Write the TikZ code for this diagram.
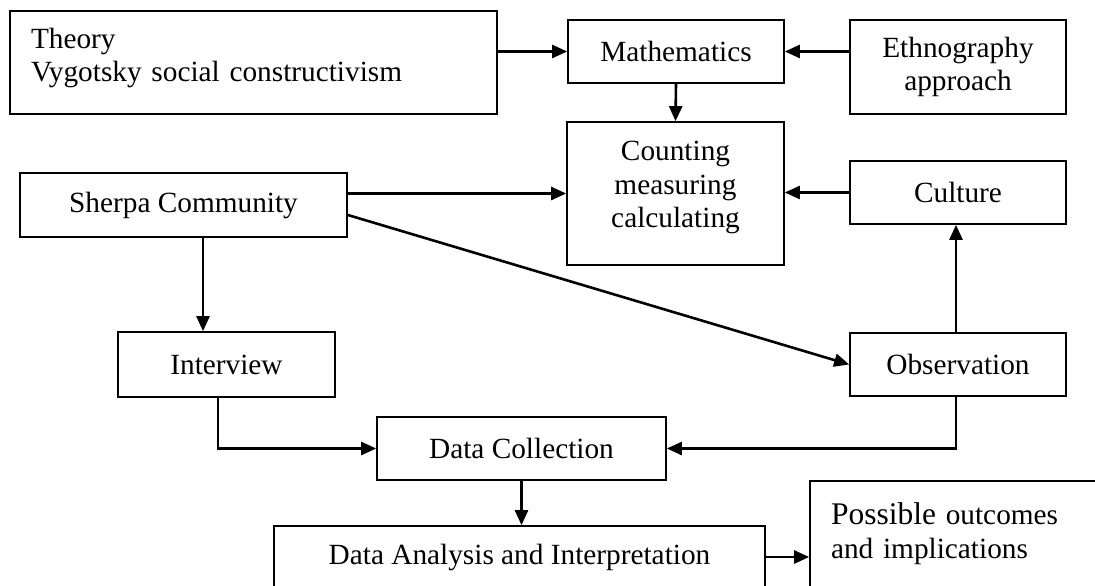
\documentclass[tikz,border=0pt]{standalone}
\usepackage{fontspec}
\setmainfont{Liberation Serif}
\usetikzlibrary{arrows.meta,calc}
\begin{document}
\begin{tikzpicture}[x=1pt,y=-1pt,
  box/.style={draw, line width=1.7pt, inner sep=0pt, align=center,
    font=\fontsize{29.3}{33.5}\selectfont},
  arr/.style={line width=2.6pt, -{Triangle[length=15pt,width=13pt]}}]
\useasboundingbox (0,0) rectangle (1095,586);
\clip (0,0) rectangle (1095,586);
% boxes
\node[box, minimum width=487pt, minimum height=103pt, text width=445pt, align=left] (theory) at (253.5,62.5) {Theory\\Vygotsky social constructivism\\[-18pt]\mbox{}};
\node[box, minimum width=216pt, minimum height=63pt] (math) at (676,51.5) {Mathematics};
\node[box, minimum width=216pt, minimum height=94pt] (ethno) at (958,67) {Ethnography\\approach};
\node[box, minimum width=217pt, minimum height=143pt] (count) at (675.5,193.5) {Counting\\measuring\\calculating\\[-16pt]\mbox{}};
\node[box, minimum width=216pt, minimum height=63pt] (culture) at (958,192.5) {Culture};
\node[box, minimum width=327pt, minimum height=64pt] (sherpa) at (183.5,205) {Sherpa Community};
\node[box, minimum width=217pt, minimum height=65pt] (interview) at (226.5,364.5) {Interview};
\node[box, minimum width=216pt, minimum height=63pt] (obs) at (958,364.5) {Observation};
\node[box, minimum width=289pt, minimum height=63pt] (dc) at (521.5,448.5) {Data Collection};
\node[box, minimum width=491pt, minimum height=62pt] (da) at (519.5,557) {Data Analysis and Interpretation};
\node[box, minimum width=305pt, minimum height=109pt, text width=263pt, align=left] (poss) at (962.5,535.5) {{\fontsize{31.5}{33.5}\selectfont Possible} outcomes\\and implications\\[-24pt]\mbox{}};
% connectors
\draw[arr] (math.west -| theory.east) -- (math.west);
\draw[arr] (ethno.west |- math.east) -- (math.east);
\draw[arr] (math.south) -- (count.north);
\draw[arr] (culture.west) -- (culture.west -| count.east);
\draw[arr] (sherpa.east |- count.west) -- (count.west);
\draw[arr] ([yshift=-10pt]sherpa.east) -- (obs.west);
\draw[arr] ([xshift=19.5pt]sherpa.south) -- ([xshift=19.5pt]sherpa.south |- interview.north);
\draw[arr] ([xshift=-8.5pt]interview.south) |- (dc.west);
\draw[arr] ([xshift=-2pt]obs.south) |- (dc.east);
\draw[arr] ([xshift=-2pt]obs.north) -- ([xshift=-2pt]culture.south);
\draw[arr] (dc.south) -- (dc.south |- da.north);
\draw[arr] (da.east) -- (da.east -| poss.west);
\end{tikzpicture}
\end{document}
